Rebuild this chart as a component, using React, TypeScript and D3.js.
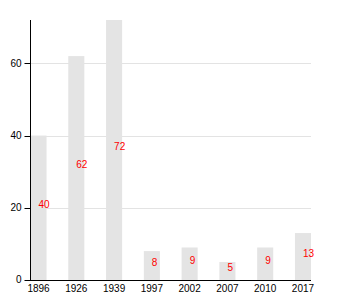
import React from "react";
import * as d3 from "d3";

const categories = ["1896", "1926", "1939", "1997", "2002", "2007", "2010", "2017"];
const values = [40, 62, 72, 8, 9, 5, 9, 13];
const yTicks = [0, 20, 40, 60];

const W = 350;
const H = 300;
const left = 30.5;
const right = 311;
const top = 20;
const bottom = 280;

export default function App() {
  const x = d3.scaleBand<string>().domain(categories).range([left, right]).paddingInner(0.575).paddingOuter(0);
  const y = d3.scaleLinear().domain([0, 72]).range([bottom, top]);
  const bw = x.bandwidth();
  const font = "Liberation Sans, Arial, sans-serif";
  return (
    <svg width={W} height={H} style={{ position: "absolute", left: 0, top: 0 }} fontFamily={font}>
      {yTicks.filter((t) => t > 0).map((t) => (
        <line key={"g" + t} x1={left} x2={right} y1={Math.round(y(t)) + 0.5} y2={Math.round(y(t)) + 0.5} stroke="#e3e3e3" strokeWidth={1} />
      ))}
      {categories.map((c, i) => (
        <rect key={"b" + c} x={x(c)!} y={y(values[i])} width={bw} height={bottom - y(values[i])} fill="#e4e4e4" />
      ))}
      {categories.map((c, i) => (
        <text key={"l" + c} x={x(c)! + bw / 2} y={y(values[i] / 2)} fontSize={10} fill="#ff0000" textAnchor="start">
          {values[i]}
        </text>
      ))}
      {/* y axis */}
      <line x1={left} x2={left} y1={top} y2={bottom} stroke="#000" strokeWidth={1} />
      {yTicks.map((t) => (
        <g key={"yt" + t}>
          <line x1={left - 6} x2={left} y1={Math.round(y(t)) + 0.5} y2={Math.round(y(t)) + 0.5} stroke="#000" />
          <text x={left - 9} y={y(t)} dy="0.32em" fontSize={10} textAnchor="end" fill="#000">
            {t}
          </text>
        </g>
      ))}
      {/* x axis */}
      <line x1={left - 0.5} x2={right} y1={bottom + 0.5} y2={bottom + 0.5} stroke="#000" strokeWidth={1} />
      {categories.map((c) => (
        <text key={"xt" + c} x={x(c)! + bw / 2} y={bottom + 5} dy="0.71em" fontSize={10} textAnchor="middle" fill="#000">
          {c}
        </text>
      ))}
    </svg>
  );
}
